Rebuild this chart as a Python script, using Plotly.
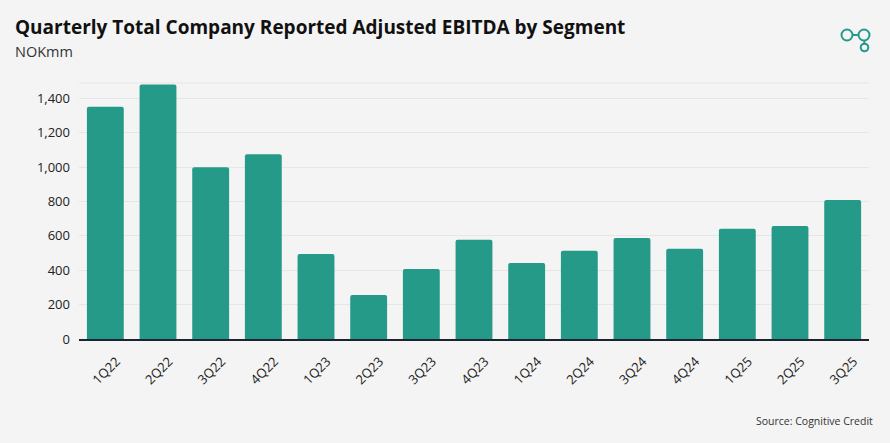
"""Quarterly adjusted EBITDA bar chart."""

import plotly.graph_objects as go

# Data.
quarters = ['1Q22', '2Q22', '3Q22', '4Q22', '1Q23', '2Q23', '3Q23', '4Q23',
            '1Q24', '2Q24', '3Q24', '4Q24', '1Q25', '2Q25', '3Q25']
ebitda = [1352, 1481, 1000, 1075, 494, 256, 407, 577,
          443, 513, 588, 525, 641, 658, 809]
y_ticks = [0, 200, 400, 600, 800, 1000, 1200, 1400]

title_text = 'Quarterly Total Company Reported Adjusted EBITDA by Segment'
subtitle_text = 'NOKmm'
source_text = 'Source: Cognitive Credit'

bar_colour = '#269a89'
background = '#f4f4f4'

# Plot area in pixels (used to place the logo in paper coordinates).
width, height = 890, 443
margin_l, margin_r, margin_t, margin_b = 79, 21, 83, 104
plot_w = width - margin_l - margin_r
plot_h = height - margin_t - margin_b


def px_x(x):
    return (x - margin_l) / plot_w


def px_y(y):
    return (height - margin_b - y) / plot_h


def main():
    figure = go.Figure()
    figure.add_bar(
        x=quarters,
        y=ebitda,
        marker=dict(color=bar_colour, line=dict(width=0), cornerradius=2),
        hoverinfo='x+y',
    )

    figure.update_layout(
        width=width,
        height=height,
        margin=dict(l=margin_l, r=margin_r, t=margin_t, b=margin_b),
        paper_bgcolor=background,
        plot_bgcolor=background,
        bargap=0.3,
        showlegend=False,
        font=dict(family='Open Sans', color='#222222', size=13),
        xaxis=go.layout.XAxis(
            tickangle=-45,
            showline=True,
            linecolor='#1b2430',
            linewidth=1.5,
            showgrid=False,
            ticks='',
            ticklabelstandoff=8,
            ticklabelshift=11,
            tickfont=dict(size=13, color='#222222'),
        ),
        yaxis=go.layout.YAxis(
            range=[0, 1490],
            tickvals=y_ticks,
            tickformat=',',
            showgrid=True,
            gridcolor='#e6e6e6',
            gridwidth=1,
            zeroline=False,
            ticks='',
            ticklabelstandoff=8,
            tickfont=dict(size=13, color='#222222'),
        ),
    )

    # Top border line of plot area.
    figure.add_shape(type='line', xref='paper', yref='paper', x0=0, x1=1, y0=1, y1=1,
                     line=dict(color='#e6e6e6', width=1), layer='below')

    # Title, subtitle and source.
    figure.add_annotation(text=f'<b>{title_text}</b>', xref='paper', yref='paper',
                          x=px_x(14), y=px_y(41), xanchor='left', yanchor='bottom',
                          showarrow=False, borderpad=0,
                          font=dict(family='Open Sans', size=19, color='#111111'))
    figure.add_annotation(text=subtitle_text, xref='paper', yref='paper',
                          x=px_x(14), y=px_y(41), xanchor='left', yanchor='top',
                          showarrow=False, borderpad=0,
                          font=dict(family='Open Sans', size=14.5, color='#333333'))
    figure.add_annotation(text=source_text, xref='paper', yref='paper',
                          x=px_x(875), y=px_y(412), xanchor='right', yanchor='top',
                          showarrow=False,
                          font=dict(family='Open Sans', size=10.5, color='#333333'))

    # Logo.
    logo_line = dict(color=bar_colour, width=2)
    for cx, cy, r in [(847, 35, 5.5), (864, 35, 5.5), (864.5, 47.5, 3.8)]:
        figure.add_shape(type='circle', xref='paper', yref='paper',
                         x0=px_x(cx - r), x1=px_x(cx + r), y0=px_y(cy + r), y1=px_y(cy - r),
                         line=logo_line)
    figure.add_shape(type='line', xref='paper', yref='paper',
                     x0=px_x(852.5), x1=px_x(858.5), y0=px_y(35), y1=px_y(35), line=logo_line)
    figure.add_shape(type='line', xref='paper', yref='paper',
                     x0=px_x(864.3), x1=px_x(864.3), y0=px_y(40.5), y1=px_y(43.7), line=logo_line)

    # Remove the page's default body margin so the figure sits at the window corner.
    figure.write_html(
        'out.html',
        config={'displayModeBar': False},
        post_script="document.body.style.margin='0';document.body.style.background='#f4f4f4';",
    )


if __name__ == '__main__':
    main()
